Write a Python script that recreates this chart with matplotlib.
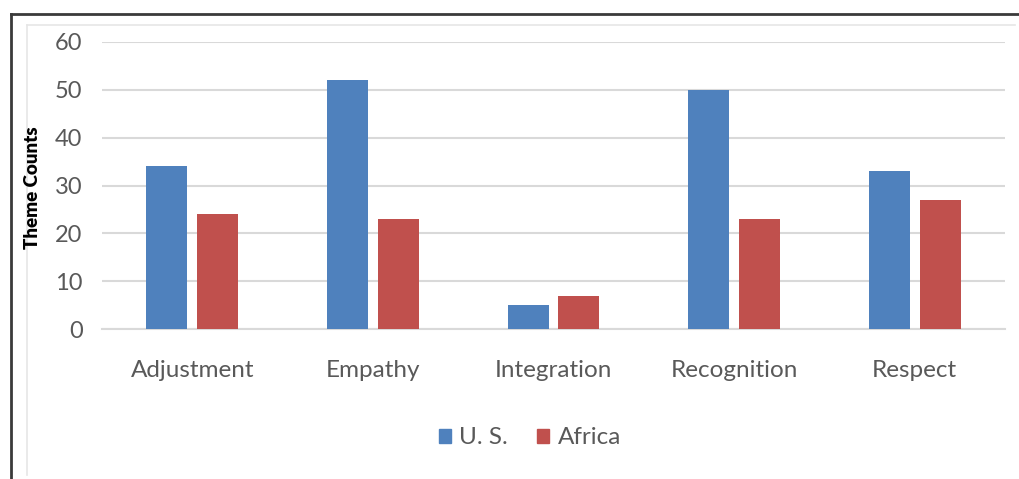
import matplotlib.pyplot as plt
import numpy as np
from matplotlib.lines import Line2D

categories = ["Adjustment", "Empathy", "Integration", "Recognition", "Respect"]
us_counts = [34, 52, 5, 50, 33]
africa_counts = [24, 23, 7, 23, 27]
series_names = ["U. S.", "Africa"]
y_ticks = [0, 10, 20, 30, 40, 50, 60]

BLUE = "#4F81BD"
RED = "#C0504D"
TEXT_GRAY = "#595959"
GRID_GRAY = "#D9D9D9"

plt.rcParams["font.family"] = ["Lato", "DejaVu Sans"]

W, H = 1019, 479
fig = plt.figure(figsize=(W / 100, H / 100), dpi=100)
ax = fig.add_axes([102 / W, 1 - 329 / H, (1005 - 102) / W, (329 - 42) / H])

x = np.arange(len(categories))
width = 0.227
gap = 0.055
ax.bar(x - (width + gap) / 2, us_counts, width=width, color=BLUE, label=series_names[0], zorder=3)
ax.bar(x + (width + gap) / 2, africa_counts, width=width, color=RED, label=series_names[1], zorder=3)

ax.set_xlim(-0.5, len(categories) - 0.5)
ax.set_ylim(0, 60)
ax.set_yticks(y_ticks)
ax.set_xticks(x)
ax.set_xticklabels(categories)
ax.tick_params(axis="y", length=0, labelsize=17, labelcolor=TEXT_GRAY, pad=14)
ax.tick_params(axis="x", length=0, labelsize=17.5, labelcolor=TEXT_GRAY, pad=22)
ax.yaxis.grid(True, color=GRID_GRAY, linewidth=1.5, zorder=0)
for side in ["top", "right", "left"]:
    ax.spines[side].set_visible(False)
ax.spines["bottom"].set_color(GRID_GRAY)
ax.spines["bottom"].set_linewidth(1.5)

fig.text(33 / W, 1 - 188 / H, "Theme Counts", rotation=90, fontsize=13.5, fontweight="heavy",
         color="black", ha="center", va="center")

handles = [plt.Rectangle((0, 0), 1, 1, color=BLUE), plt.Rectangle((0, 0), 1, 1, color=RED)]
fig.legend(handles, series_names, loc="center", bbox_to_anchor=(530 / W, 1 - 438 / H), ncol=2,
           frameon=False, fontsize=17.5, labelcolor=TEXT_GRAY, handlelength=0.5, handleheight=0.5,
           handletextpad=0.35, columnspacing=1.2)

# outer frame of the screenshot
fig.add_artist(Line2D([11 / W, 11 / W], [0, 1 - 14 / H], color="#3A3A3A", linewidth=2))
fig.add_artist(Line2D([11 / W, 1], [1 - 14 / H, 1 - 14 / H], color="#3A3A3A", linewidth=2))
# inner chart-area frame
fig.add_artist(Line2D([27 / W, 27 / W], [1 - 475 / H, 1 - 25 / H], color="#E6E6E6", linewidth=1.2))
fig.add_artist(Line2D([27 / W, 1015 / W], [1 - 25 / H, 1 - 25 / H], color="#E6E6E6", linewidth=1.2))

fig.savefig("out.png", dpi=100)
